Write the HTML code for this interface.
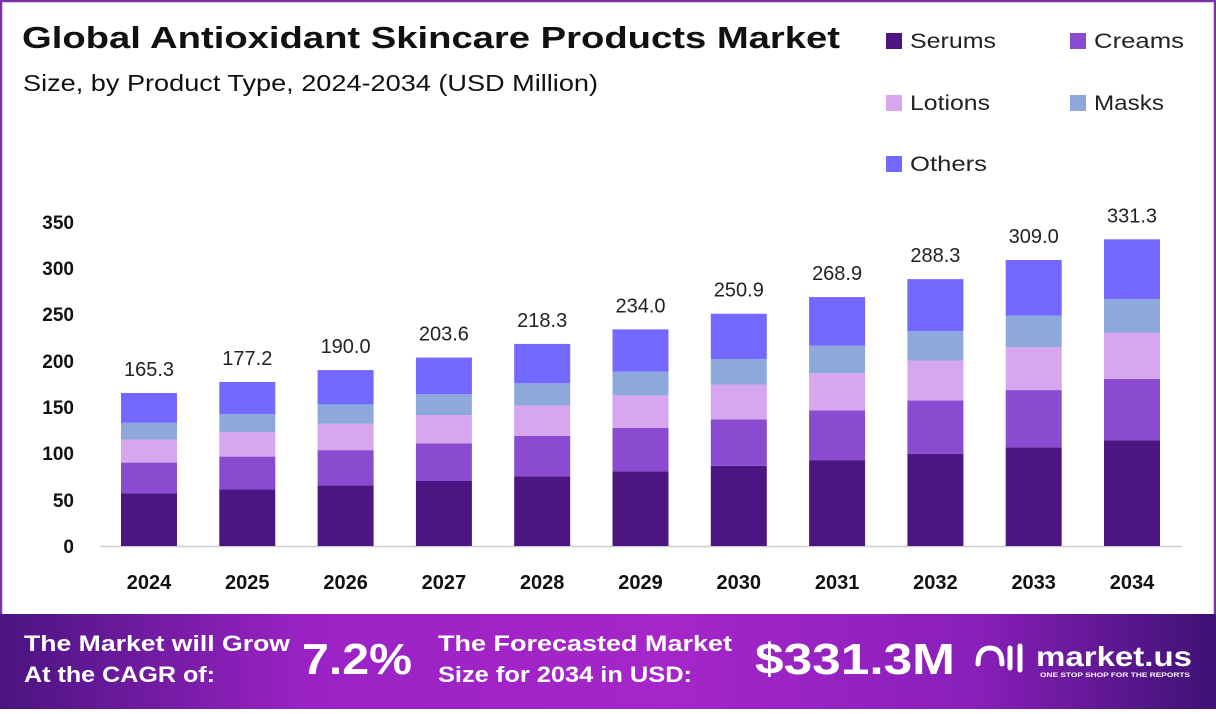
<!DOCTYPE html>
<html><head><meta charset="utf-8"><style>
body{margin:0;width:1216px;height:709px;overflow:hidden;font-family:"Liberation Sans",sans-serif;}
</style></head><body>
<svg width="1216" height="709" viewBox="0 0 1216 709" xmlns="http://www.w3.org/2000/svg" font-family="Liberation Sans, sans-serif">
<defs>
<linearGradient id="bg" x1="0" x2="1" y1="0" y2="0">
<stop offset="0" stop-color="#4a1480"/><stop offset="0.25" stop-color="#9a22c4"/><stop offset="0.55" stop-color="#a526c9"/><stop offset="0.8" stop-color="#8a1fba"/><stop offset="1" stop-color="#3d1273"/>
</linearGradient>
</defs>
<rect x="1" y="1" width="1214" height="707" fill="#fff" stroke="#7b2fa8" stroke-width="2.5"/>
<text x="22" y="48" font-size="31" font-weight="bold" fill="#111" textLength="818" lengthAdjust="spacingAndGlyphs">Global Antioxidant Skincare Products Market</text>
<text x="23" y="91" font-size="23" fill="#111" textLength="575" lengthAdjust="spacingAndGlyphs">Size, by Product Type, 2024-2034 (USD Million)</text>
<g font-size="21" fill="#222">
<rect x="886" y="33" width="16" height="16" fill="#4b1582"/><text x="910" y="48" textLength="86" lengthAdjust="spacingAndGlyphs">Serums</text>
<rect x="1070" y="33" width="16" height="16" fill="#8a4bd0"/><text x="1094" y="48" textLength="90" lengthAdjust="spacingAndGlyphs">Creams</text>
<rect x="886" y="95" width="16" height="16" fill="#d6a6ee"/><text x="910" y="110" textLength="80" lengthAdjust="spacingAndGlyphs">Lotions</text>
<rect x="1070" y="95" width="16" height="16" fill="#8ea8dc"/><text x="1094" y="110" textLength="70" lengthAdjust="spacingAndGlyphs">Masks</text>
<rect x="886" y="156" width="16" height="16" fill="#7368ff"/><text x="910" y="171" textLength="77" lengthAdjust="spacingAndGlyphs">Others</text>
</g>
<g font-size="19" font-weight="bold" fill="#111" text-anchor="end">
<text x="74" y="553">0</text><text x="74" y="507">50</text><text x="74" y="460">100</text><text x="74" y="414">150</text><text x="74" y="368">200</text><text x="74" y="321">250</text><text x="74" y="275">300</text><text x="74" y="229">350</text>
</g>
<line x1="100" y1="546.5" x2="1182" y2="546.5" stroke="#ccc" stroke-width="1.5"/>
<g id="bars"></g>
<rect x="0" y="614" width="1216" height="95" fill="url(#bg)"/>
<g fill="#fff" font-weight="bold">
<text x="24" y="651" font-size="22" textLength="266" lengthAdjust="spacingAndGlyphs">The Market will Grow</text>
<text x="24" y="682" font-size="22" textLength="191" lengthAdjust="spacingAndGlyphs">At the CAGR of:</text>
<text x="302" y="674" font-size="44" textLength="110" lengthAdjust="spacingAndGlyphs">7.2%</text>
<text x="438" y="651" font-size="22" textLength="294" lengthAdjust="spacingAndGlyphs">The Forecasted Market</text>
<text x="438" y="682" font-size="22" textLength="254" lengthAdjust="spacingAndGlyphs">Size for 2034 in USD:</text>
<text x="755" y="674" font-size="44" textLength="200" lengthAdjust="spacingAndGlyphs">$331.3M</text>
<text x="1036" y="666" font-size="28" textLength="156" lengthAdjust="spacingAndGlyphs">market.us</text>
<text x="1040" y="677" font-size="6" textLength="150" lengthAdjust="spacingAndGlyphs">ONE STOP SHOP FOR THE REPORTS</text>
<path d="M978 664 q0-16 12-16 q12 0 12 16 M1010 648 v20 M1020 646 v24" stroke="#fff" stroke-width="5" fill="none" stroke-linecap="round"/>
</g>
</svg>
<script>
var vals=[165.3,177.2,190.0,203.6,218.3,234.0,250.9,268.9,288.3,309.0,331.3];
var fr=[0.345,0.20,0.15,0.11,0.195];
var col=["#4b1582","#8a4bd0","#d6a6ee","#8ea8dc","#7368ff"];
var s=324/350,g=document.getElementById('bars'),h='';
vals.forEach(function(v,i){var cx=149+i*98.3,x=cx-28,y=546;
fr.forEach(function(f,j){var hh=v*f*s;y-=hh;h+='<rect x="'+x+'" y="'+y+'" width="56" height="'+hh+'" fill="'+col[j]+'"/>';});
h+='<text x="'+cx+'" y="'+(y-17)+'" font-size="20" fill="#222" text-anchor="middle">'+v.toFixed(1)+'</text>';
h+='<text x="'+cx+'" y="589" font-size="20" font-weight="bold" fill="#111" text-anchor="middle">'+(2024+i)+'</text>';});
g.innerHTML=h;
</script>
</body></html>
